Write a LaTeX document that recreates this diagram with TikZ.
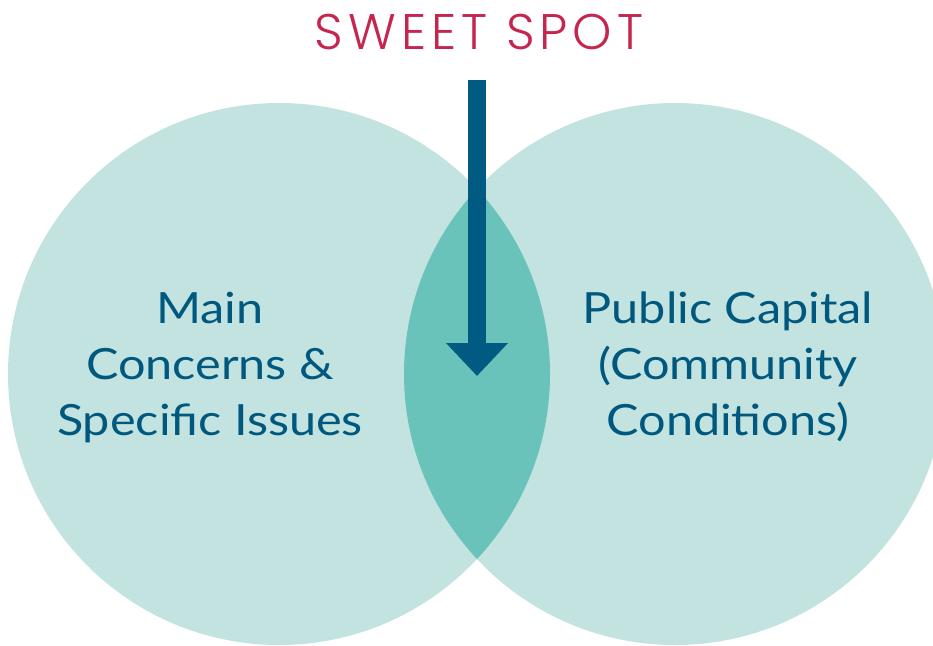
\documentclass[tikz,border=0pt]{standalone}
\usepackage{fontspec}
\setmainfont{Lato}[FakeStretch=1.13]
\newfontfamily\spotfont{Poppins Light}[LetterSpace=10]
\usetikzlibrary{arrows.meta}

\definecolor{circlefill}{HTML}{C2E3DF}
\definecolor{lensfill}{HTML}{6AC3BB}
\definecolor{arrowblue}{HTML}{005A82}
\definecolor{labelblue}{HTML}{00587F}
\definecolor{spotred}{HTML}{C4264F}

\begin{document}
\begin{tikzpicture}[
        x=1pt, y=-1pt,
        set label/.style={align=center, inner sep=0pt, anchor=north, text=labelblue,
            font={\fontsize{43pt}{56pt}\selectfont}},
    ]
    \useasboundingbox (0,0) rectangle (933,645);

    \def\R{271}
    \coordinate (left) at (279,374);
    \coordinate (right) at (675,374);

    % the two sets
    \fill[circlefill] (left) circle[radius=\R];
    \fill[circlefill] (right) circle[radius=\R];
    \begin{scope}
        \clip (left) circle[radius=\R];
        \fill[lensfill] (right) circle[radius=\R];
    \end{scope}

    \node[set label] (concerns) at (210,292) {Main\\Concerns \&\\Specific Issues};
    \node[set label] (capital) at (728,292) {Public Capital\\(Community\\Conditions)};

    % the overlap
    \node[anchor=base, inner sep=0pt, text=spotred,
        font={\spotfont\fontsize{50pt}{50pt}\selectfont}] (spot) at (479,49) {SWEET SPOT};
    \coordinate (shaft) at (477,80);
    \coordinate (tip) at (477,376);
    \draw[arrowblue, line width=18pt, -{Triangle[width=60pt,length=33pt]}] (shaft) -- (tip);
\end{tikzpicture}
\end{document}
